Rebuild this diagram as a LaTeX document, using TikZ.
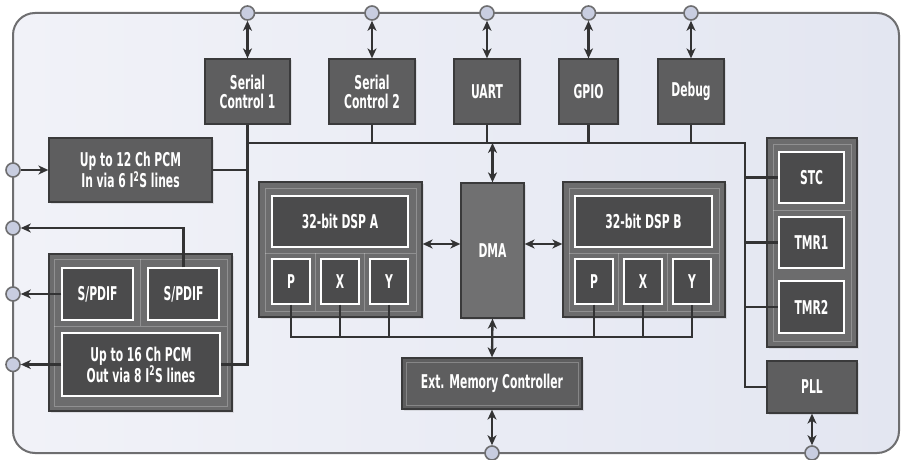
\documentclass[tikz,border=0pt]{standalone}
\usepackage{fontspec}
\newfontfamily\condfont[FakeStretch=0.63]{DejaVu Sans Condensed}
\usetikzlibrary{arrows.meta,shadows}
\definecolor{frameC}{HTML}{6E6E70}
\definecolor{bgA}{HTML}{F1F2F8}
\definecolor{bgB}{HTML}{E3E6F1}
\definecolor{portF}{HTML}{C8CDE0}
\definecolor{blkF}{HTML}{5E5E5F}
\definecolor{blkD}{HTML}{3A3A3B}
\definecolor{grpF}{HTML}{6C6C6D}
\definecolor{inF}{HTML}{4B4B4C}
\definecolor{dmaF}{HTML}{707071}
\definecolor{lineC}{HTML}{333334}
\tikzset{
  txt/.style={text=white, align=center, font=\condfont\bfseries\fontsize{19}{19}\selectfont},
  blk/.style={draw=blkD, line width=1.3pt, fill=blkF, txt, inner sep=0pt,
    drop shadow={opacity=0.18, shadow xshift=1.5pt, shadow yshift=-1.5pt}},
  grp/.style={draw=blkD, line width=1.3pt, fill=grpF, inner sep=0pt,
    drop shadow={opacity=0.18, shadow xshift=1.5pt, shadow yshift=-1.5pt}},
  ibox/.style={draw=white, line width=1.4pt, fill=inF, txt, inner sep=0pt},
  port/.style={circle, minimum size=14pt, inner sep=0pt, draw=frameC, fill=portF, line width=1.6pt},
  conn/.style={draw=lineC, line width=2.3pt},
  arr/.style={conn, -{Stealth[length=10pt,width=9pt,inset=3pt]}},
  biarr/.style={conn, {Stealth[length=10pt,width=9pt,inset=3pt]}-{Stealth[length=10pt,width=9pt,inset=3pt]}},
  inset/.style={draw=white, draw opacity=0.25, line width=0.6pt}
}
\begin{document}
\begin{tikzpicture}[x=1pt,y=-1pt]
\useasboundingbox (0,0) rectangle (906,460);
\fill[white] (0,0) rectangle (906,460);
% outer frame
\shade[rounded corners=22pt, left color=bgA, right color=bgB] (13,13) rectangle (899,453);
\draw[frameC, line width=2pt, rounded corners=22pt] (13,13) rectangle (899,453);

% top blocks
\node[blk, minimum width=85pt, minimum height=65pt] (sc1) at (247.5,91.5) {Serial\\Control 1};
\node[blk, minimum width=86pt, minimum height=65pt] (sc2) at (372,91.5) {Serial\\Control 2};
\node[blk, minimum width=66pt, minimum height=65pt] (uart) at (487,91.5) {UART};
\node[blk, minimum width=59pt, minimum height=65pt] (gpio) at (588.5,91.5) {GPIO};
\node[blk, minimum width=66pt, minimum height=65pt] (debug) at (691,91.5) {Debug};

% ports top
\node[port] (p1) at (247.5,13) {};
\node[port] (p2) at (372,13) {};
\node[port] (p3) at (487,13) {};
\node[port] (p4) at (588.5,13) {};
\node[port] (p5) at (691,13) {};
% ports left
\node[port] (l1) at (13,170) {};
\node[port] (l2) at (13,228) {};
\node[port] (l3) at (13,294) {};
\node[port] (l4) at (13,364.5) {};
% ports bottom
\node[port] (b1) at (492,453) {};
\node[port] (b2) at (812,453) {};

% PCM in
\node[blk, minimum width=163pt, minimum height=64pt] (pcmin) at (130.5,170) {Up to 12 Ch PCM\\In via 6 I\textsuperscript{2}S lines};

% lower-left group
\node[grp, minimum width=183pt, minimum height=157pt] (lgrp) at (140.5,332.5) {};
\draw[inset] (54,259) rectangle (227,406);
\draw[inset] (54,326) -- (227,326);
\draw[inset] (140.5,259) -- (140.5,326);
\node[ibox, minimum width=71pt, minimum height=52pt] (spdif1) at (97.5,294) {S/PDIF};
\node[ibox, minimum width=71pt, minimum height=52pt] (spdif2) at (183.5,294) {S/PDIF};
\node[ibox, minimum width=158pt, minimum height=63pt] (pcmout) at (141,364.5) {Up to 16 Ch PCM\\Out via 8 I\textsuperscript{2}S lines};

% DSP A
\node[grp, minimum width=163pt, minimum height=135pt] (grpa) at (340.5,249.5) {};
\draw[inset] (265,188) rectangle (416,311);
\draw[inset] (265,253) -- (416,253);
\draw[inset] (315.5,253) -- (315.5,311);
\draw[inset] (364.5,253) -- (364.5,311);
\node[ibox, minimum width=136pt, minimum height=51pt] (dspa) at (340,221.5) {32-bit DSP A};
\node[ibox, minimum width=38pt, minimum height=45pt] (pa) at (291,281.5) {P};
\node[ibox, minimum width=38pt, minimum height=45pt] (xa) at (340,281.5) {X};
\node[ibox, minimum width=38pt, minimum height=45pt] (ya) at (389,281.5) {Y};

% DMA
\node[blk, fill=dmaF, minimum width=63pt, minimum height=135pt] (dma) at (492.5,250.5) {DMA};

% DSP B
\node[grp, minimum width=162pt, minimum height=135pt] (grpb) at (644,249.5) {};
\draw[inset] (569,188) rectangle (719,311);
\draw[inset] (569,253) -- (719,253);
\draw[inset] (618.5,253) -- (618.5,311);
\draw[inset] (667.5,253) -- (667.5,311);
\node[ibox, minimum width=137pt, minimum height=51pt] (dspb) at (643.5,221.5) {32-bit DSP B};
\node[ibox, minimum width=38pt, minimum height=45pt] (pb) at (594,281.5) {P};
\node[ibox, minimum width=38pt, minimum height=45pt] (xb) at (643,281.5) {X};
\node[ibox, minimum width=38pt, minimum height=45pt] (yb) at (692,281.5) {Y};

% Ext memory
\node[blk, minimum width=180pt, minimum height=51pt] (extmem) at (492,383.5) {Ext. Memory Controller};
\draw[inset] (406,362) rectangle (578,405);

% timers group
\node[grp, minimum width=90pt, minimum height=209pt] (tgrp) at (812,242.5) {};
\draw[inset] (773,144) rectangle (851,341);
\draw[inset] (773,210) -- (851,210);
\node[ibox, minimum width=65pt, minimum height=51pt] (stc) at (811.5,177.5) {STC};
\node[ibox, minimum width=65pt, minimum height=51pt] (tmr1) at (811.5,242.5) {TMR1};
\node[ibox, minimum width=65pt, minimum height=52pt] (tmr2) at (811.5,307) {TMR2};

% PLL
\node[blk, minimum width=90pt, minimum height=52pt] (pll) at (812,387) {PLL};

% coordinates
\coordinate (busR) at (745,143);
\coordinate (bbus) at (0,337);

% top port arrows
\draw[biarr] (p1) -- (sc1);
\draw[biarr] (p2) -- (sc2);
\draw[biarr] (p3) -- (uart);
\draw[biarr] (p4) -- (gpio);
\draw[biarr] (p5) -- (debug);

% upper bus
\draw[conn] (sc1.south) -- (sc1.south |- pcmout.east) -- (pcmout.east);
\draw[conn] (sc1.south |- busR) -- (busR) -- (busR |- pll.west) -- (pll.west);
\draw[conn] (sc2.south) -- (sc2.south |- busR);
\draw[conn] (uart.south) -- (uart.south |- busR);
\draw[conn] (gpio.south) -- (gpio.south |- busR);
\draw[conn] (debug.south) -- (debug.south |- busR);
\draw[conn] (pcmin.east) -- (pcmin.east -| sc1.south);
\draw[conn] (stc.west -| busR) -- (stc.west);
\draw[conn] (tmr1.west -| busR) -- (tmr1.west);
\draw[conn] (tmr2.west -| busR) -- (tmr2.west);
\draw[biarr] (dma.north |- busR) -- (dma.north);

% left ports
\draw[arr] (l1) -- (pcmin.west);
\draw[arr] (spdif2.north) |- (l2.east);
\draw[arr] (spdif1.west) -- (l3.east);
\draw[arr] (pcmout.west) -- (l4.east);

% DSP <-> DMA
\draw[biarr] (grpa.east |- 0,244) -- (dma.west |- 0,244);
\draw[biarr] (dma.east |- 0,244) -- (grpb.west |- 0,244);

% lower bus
\draw[conn] (pa.south) |- (yb.south |- bbus) -- (yb.south);
\draw[conn] (xa.south) -- (xa.south |- bbus);
\draw[conn] (ya.south) -- (ya.south |- bbus);
\draw[conn] (pb.south) -- (pb.south |- bbus);
\draw[conn] (xb.south) -- (xb.south |- bbus);
\draw[biarr] (dma.south) -- (extmem.north);
\draw[biarr] (extmem) -- (b1);
\draw[biarr] (pll) -- (b2);
\end{tikzpicture}
\end{document}
